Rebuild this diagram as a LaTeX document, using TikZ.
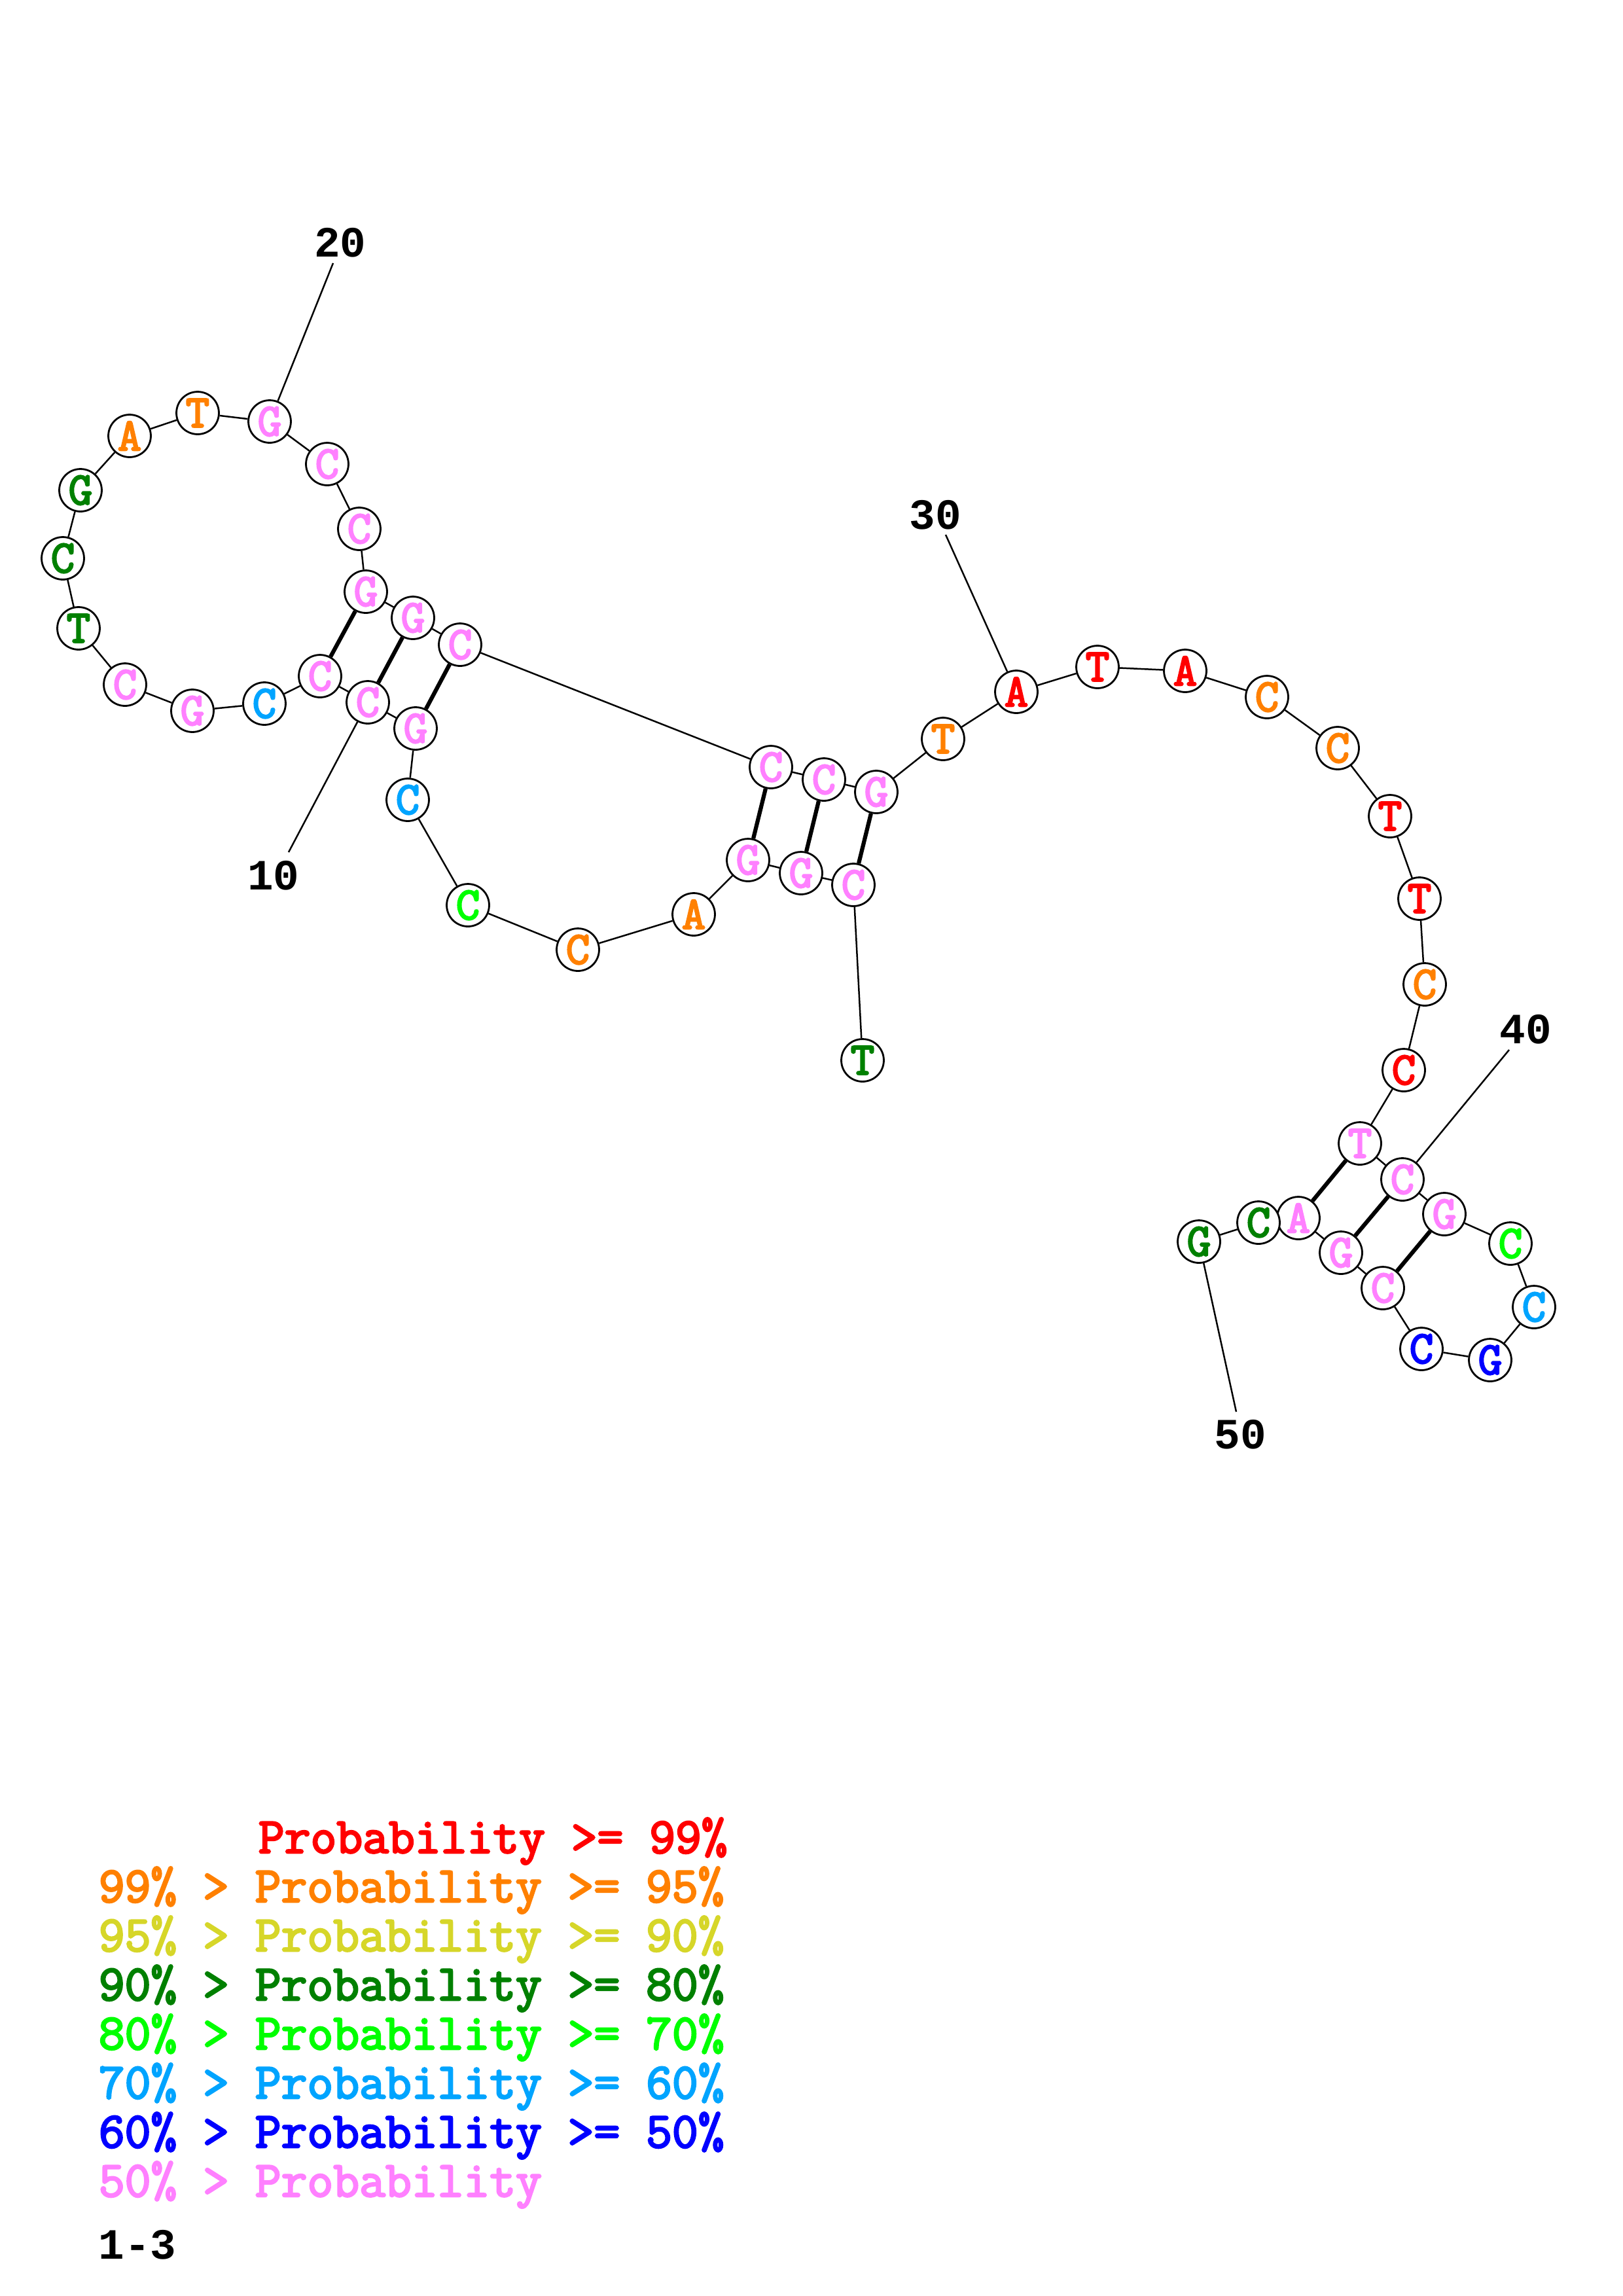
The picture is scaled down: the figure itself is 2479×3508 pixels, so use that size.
\documentclass[tikz,border=0pt]{standalone}
\usepackage{fontspec}
\newfontfamily\monob{Liberation Mono}
\newfontfamily\slab{Latin Modern Mono}[FakeBold=3.5]
\usetikzlibrary{backgrounds}
\definecolor{pr99}{RGB}{255,0,0}
\definecolor{pr95}{RGB}{255,128,0}
\definecolor{pr90}{RGB}{214,214,41}
\definecolor{pr80}{RGB}{0,128,0}
\definecolor{pr70}{RGB}{0,255,0}
\definecolor{pr60}{RGB}{0,164,255}
\definecolor{pr50}{RGB}{0,0,255}
\definecolor{prlow}{RGB}{255,128,255}
\newcommand{\nucfont}{\slab\fontsize{17pt}{17pt}\selectfont}
\newcommand{\legfont}{\slab\fontsize{18.64pt}{18.64pt}\selectfont}
\newcommand{\numfont}{\monob\bfseries\fontsize{15.9pt}{15.9pt}\selectfont}
\begin{document}
\begin{tikzpicture}[x=0.084712mm,y=-0.084712mm,
  nuc/.style={circle,draw=black,line width=0.68pt,fill=white,minimum size=5.5mm,inner sep=0pt,font=\nucfont},
  backbone/.style={draw=black,line width=0.6pt},
  pairline/.style={draw=black,line width=1.5pt},
  numlabel/.style={font=\numfont,inner sep=0pt,text=black},
  legend/.style={font=\legfont,inner sep=0pt,anchor=base west}]
\useasboundingbox (0,0) rectangle (2479,3508);
\foreach \i/\x/\y/\b/\c in {
 1/1318/1620/T/pr80, 2/1304/1352/C/prlow, 3/1224/1334/G/prlow, 4/1143/1314/G/prlow,
 5/1060/1397/A/pr95, 6/883/1451/C/pr95, 7/715/1383/C/pr70, 8/623/1222/C/pr60,
 9/635/1113/G/prlow, 10/562/1073/C/prlow, 11/489/1033/C/prlow, 12/404/1075/C/pr60,
 13/294/1086/G/prlow, 14/191/1046/C/prlow, 15/120/960/T/pr80, 16/96/853/C/pr80,
 17/123/749/G/pr80, 18/198/666/A/pr95, 19/302/631/T/pr95, 20/412/644/G/prlow,
 21/500/709/C/prlow, 22/549/808/C/prlow, 23/559/904/G/prlow, 24/631/944/G/prlow,
 25/703/985/C/prlow, 26/1178/1172/C/prlow, 27/1259/1191/C/prlow, 28/1339/1210/G/prlow,
 29/1441/1129/T/pr95, 30/1553/1057/A/pr99, 31/1677/1019/T/pr99, 32/1811/1025/A/pr99,
 33/1936/1065/C/pr95, 34/2044/1143/C/pr95, 35/2124/1247/T/pr99, 36/2169/1373/T/pr99,
 37/2177/1504/C/pr95, 38/2145/1635/C/pr99, 39/2078/1747/T/prlow, 40/2143/1802/C/prlow,
 41/2207/1855/G/prlow, 42/2308/1900/C/pr70, 43/2344/1997/C/pr60, 44/2277/2078/G/pr50,
 45/2172/2061/C/pr50, 46/2113/1968/C/prlow, 47/2049/1914/G/prlow, 48/1984/1861/A/prlow,
 49/1923/1868/C/pr80, 50/1832/1897/G/pr80}
 {\node[nuc,text=\c] (n\i) at (\x,\y) {\b};}
% position labels
\node[numlabel] (lab10) at (418,1338) {10};
\node[numlabel] (lab20) at (520,371) {20};
\node[numlabel] (lab30) at (1429,787) {30};
\node[numlabel] (lab40) at (2331,1573) {40};
\node[numlabel] (lab50) at (1895,2192) {50};
\coordinate (t10) at (441,1302);
\coordinate (t20) at (509,402);
\coordinate (t30) at (1445,817);
\coordinate (t40) at (2306,1604);
\coordinate (t50) at (1889,2157);
\begin{scope}[on background layer]
 \fill[white] (0,0) rectangle (2479,3508);
 \foreach \i in {1,...,49}{\pgfmathtruncatemacro{\j}{\i+1}\draw[backbone] (n\i) -- (n\j);}
 \foreach \a/\b in {2/28,3/27,4/26,9/25,10/24,11/23,39/48,40/47,41/46}
  {\draw[pairline] (n\a) -- (n\b);}
 \foreach \k in {10,20,30,40,50}{\draw[backbone] (t\k) -- (n\k);}
\end{scope}
% legend
\node[legend,text=pr99] (leg1) at (394,2831) {Probability >= 99\%};
\node[legend,text=pr95] (leg2) at (150,2906) {99\% > Probability >= 95\%};
\node[legend,text=pr90] (leg3) at (150,2981) {95\% > Probability >= 90\%};
\node[legend,text=pr80] (leg4) at (150,3056) {90\% > Probability >= 80\%};
\node[legend,text=pr70] (leg5) at (150,3131) {80\% > Probability >= 70\%};
\node[legend,text=pr60] (leg6) at (150,3206) {70\% > Probability >= 60\%};
\node[legend,text=pr50] (leg7) at (150,3281) {60\% > Probability >= 50\%};
\node[legend,text=prlow] (leg8) at (150,3356) {50\% > Probability};
\node[numlabel,anchor=base west] (leg9) at (150,3451) {1-3};
\end{tikzpicture}
\end{document}
